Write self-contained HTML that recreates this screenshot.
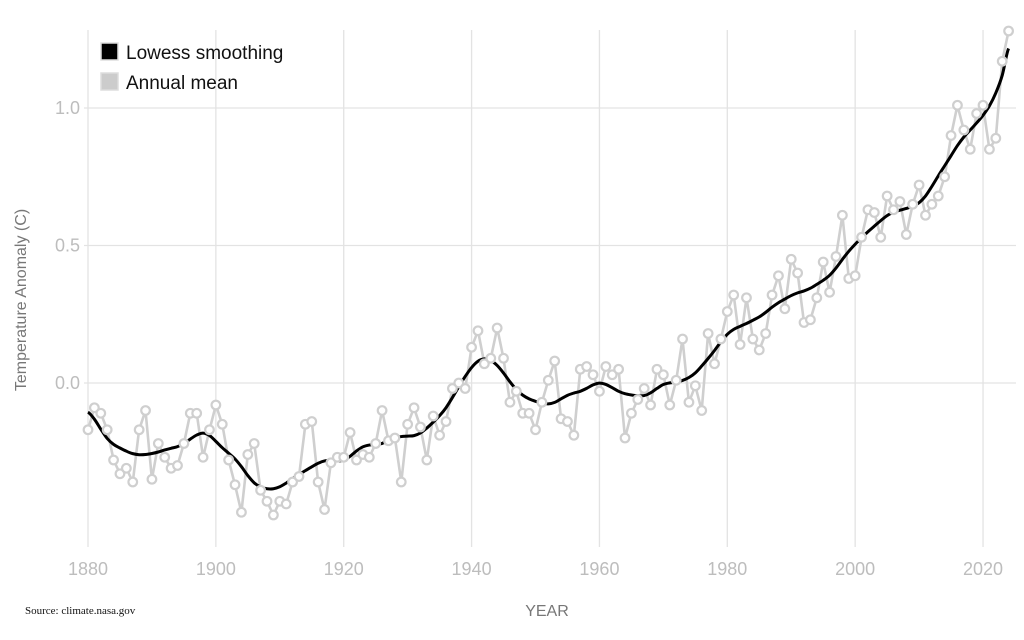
<!DOCTYPE html>
<html><head><meta charset="utf-8"><style>
html,body{margin:0;padding:0;background:#fff;}
svg{display:block;font-family:"Liberation Sans",sans-serif;}
</style></head><body>
<svg id="s" width="1024" height="640" xmlns="http://www.w3.org/2000/svg">
<g id="grid" stroke="#e3e3e3" stroke-width="1.3"></g>
<text x="26" y="300" transform="rotate(-90 26 300)" text-anchor="middle" font-size="16" fill="#777">Temperature Anomaly (C)</text>
<text x="547" y="616" text-anchor="middle" font-size="16" fill="#777">YEAR</text>
<text x="25" y="614" font-size="11" font-family="Liberation Serif,serif" fill="#111">Source: climate.nasa.gov</text>
<g id="ticks" font-size="18" fill="#bdbdbd"></g>
<path id="mean" fill="none" stroke="#cfcfcf" stroke-width="2.6"/>
<path id="low" fill="none" stroke="#000" stroke-width="3"/>
<g id="pts" fill="#fff" stroke="#cfcfcf" stroke-width="2.2"></g>
<rect x="101" y="43" width="17" height="17" fill="#000" stroke="#ddd" stroke-width="1.5"/>
<text x="126" y="59" font-size="19" fill="#111">Lowess smoothing</text>
<rect x="101" y="73" width="17" height="17" fill="#ccc" stroke="#ddd" stroke-width="1.5"/>
<text x="126" y="89" font-size="19" fill="#111">Annual mean</text>
</svg>
<script>
var d=[-0.17,-0.09,-0.11,-0.17,-0.28,-0.33,-0.31,-0.36,-0.17,-0.10,-0.35,-0.22,-0.27,-0.31,-0.30,-0.22,-0.11,-0.11,-0.27,-0.17,-0.08,-0.15,-0.28,-0.37,-0.47,-0.26,-0.22,-0.39,-0.43,-0.48,-0.43,-0.44,-0.36,-0.34,-0.15,-0.14,-0.36,-0.46,-0.29,-0.27,-0.27,-0.18,-0.28,-0.26,-0.27,-0.22,-0.10,-0.21,-0.20,-0.36,-0.15,-0.09,-0.16,-0.28,-0.12,-0.19,-0.14,-0.02,0.00,-0.02,0.13,0.19,0.07,0.09,0.20,0.09,-0.07,-0.03,-0.11,-0.11,-0.17,-0.07,0.01,0.08,-0.13,-0.14,-0.19,0.05,0.06,0.03,-0.03,0.06,0.03,0.05,-0.20,-0.11,-0.06,-0.02,-0.08,0.05,0.03,-0.08,0.01,0.16,-0.07,-0.01,-0.10,0.18,0.07,0.16,0.26,0.32,0.14,0.31,0.16,0.12,0.18,0.32,0.39,0.27,0.45,0.40,0.22,0.23,0.31,0.44,0.33,0.46,0.61,0.38,0.39,0.53,0.63,0.62,0.53,0.68,0.63,0.66,0.54,0.65,0.72,0.61,0.65,0.68,0.75,0.90,1.01,0.92,0.85,0.98,1.01,0.85,0.89,1.17,1.28];
function X(y){return 88+(y-1880)*6.393;}function Y(v){return 383-v*275;}
var ns="http://www.w3.org/2000/svg",g=document.getElementById('grid'),t=document.getElementById('ticks');
function el(p,n,a,tx){var e=document.createElementNS(ns,n);for(var k in a)e.setAttribute(k,a[k]);if(tx)e.textContent=tx;p.appendChild(e);}
for(var y=1880;y<=2020;y+=20){el(g,'line',{x1:X(y),x2:X(y),y1:30,y2:547});el(t,'text',{x:X(y),y:575,'text-anchor':'middle'},String(y));}
[0,0.5,1].forEach(function(v){el(g,'line',{x1:84,x2:1016,y1:Y(v),y2:Y(v)});el(t,'text',{x:80,y:Y(v)+6,'text-anchor':'end'},v.toFixed(1));});
var p='';d.forEach(function(v,i){p+=(i?'L':'M')+X(1880+i).toFixed(1)+' '+Y(v).toFixed(1);});
document.getElementById('mean').setAttribute('d',p);
var pts=document.getElementById('pts');d.forEach(function(v,i){el(pts,'circle',{cx:X(1880+i),cy:Y(v),r:4.3});});
var n=d.length,h=6.5,s=[];
for(var i=0;i<n;i++){var sw=0,sx=0,sy=0,sxx=0,sxy=0;for(var j=0;j<n;j++){var u=Math.abs(j-i)/h;if(u>=1)continue;var w=Math.pow(1-u*u*u,3);sw+=w;sx+=w*j;sy+=w*d[j];sxx+=w*j*j;sxy+=w*j*d[j];}
var mx=sx/sw,my=sy/sw,b=(sxy/sw-mx*my)/(sxx/sw-mx*mx);s.push(my+b*(i-mx));}
var q='M'+X(1880)+' '+Y(s[0]);for(var i=1;i<n;i++){var x0=X(1879+i),x1=X(1880+i);var pm=s[i-2]!==undefined?s[i-2]:s[i-1],nx=s[i+1]!==undefined?s[i+1]:s[i];
var c1=Y(s[i-1])+(Y(s[i])-Y(pm))/6,c2=Y(s[i])-(Y(nx)-Y(s[i-1]))/6;q+='C'+(x0+2.131)+' '+c1+' '+(x1-2.131)+' '+c2+' '+x1+' '+Y(s[i]);}
document.getElementById('low').setAttribute('d',q);
</script>
</body></html>
